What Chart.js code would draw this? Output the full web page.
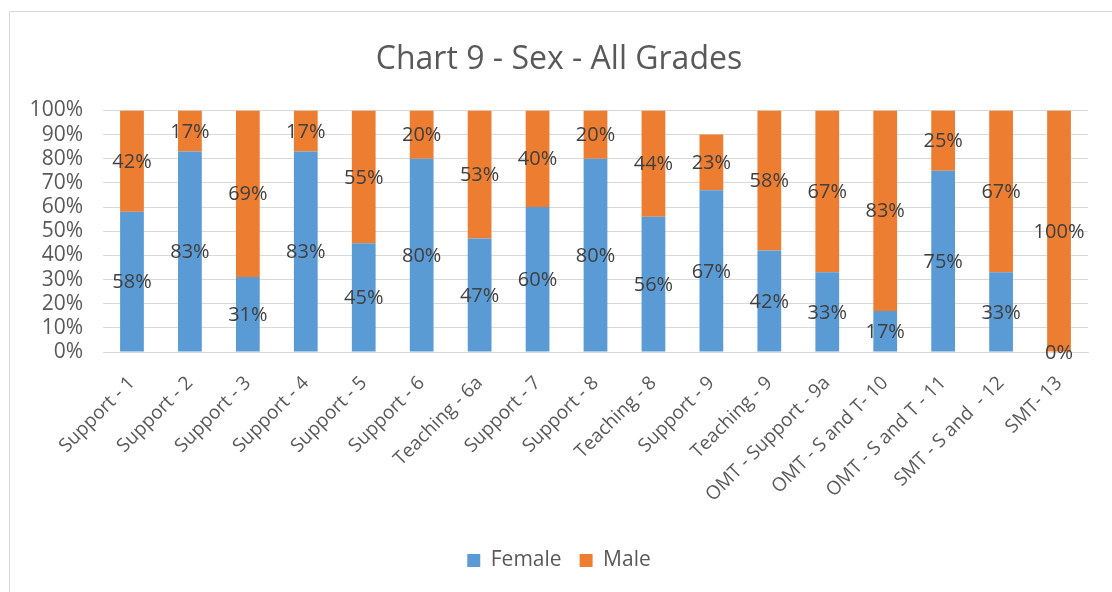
<!DOCTYPE html>
<html>
<head>
<meta charset="utf-8">
<script src="https://cdn.jsdelivr.net/npm/chart.js@4.4.1/dist/chart.umd.min.js"></script>
<style>
  html, body { margin: 0; padding: 0; background: #fff; }
  #wrap { position: relative; width: 1112px; height: 592px; overflow: hidden; }
  #frame { position: absolute; left: 9px; top: 11px; right: -5px; bottom: -5px; border: 1px solid #d9d9d9; }
  canvas { position: absolute; left: 0; top: 0; }
</style>
</head>
<body>
<div id="wrap">
  <div id="frame"></div>
  <canvas id="chart" width="1112" height="592"></canvas>
</div>
<script>
// grades on the x axis
const categories = [
  'Support - 1', 'Support - 2', 'Support - 3', 'Support - 4', 'Support - 5',
  'Support - 6', 'Teaching - 6a', 'Support - 7', 'Support - 8', 'Teaching - 8',
  'Support - 9', 'Teaching - 9', 'OMT - Support - 9a', 'OMT - S and T- 10',
  'OMT - S and T - 11', 'SMT - S and  - 12', 'SMT- 13'
];
// percentages per grade
const female = [58, 83, 31, 83, 45, 80, 47, 60, 80, 56, 67, 42, 33, 17, 75, 33, 0];
const male   = [42, 17, 69, 17, 55, 20, 53, 40, 20, 44, 23, 58, 67, 83, 25, 67, 100];
const yTicks = [0, 10, 20, 30, 40, 50, 60, 70, 80, 90, 100];

const FONT = "'Open Sans', sans-serif";

// draws the value labels in the middle of each segment
const segmentLabels = {
  id: 'segmentLabels',
  afterDatasetsDraw(chart) {
    const ctx = chart.ctx;
    ctx.save();
    ctx.font = '20px ' + FONT;
    ctx.fillStyle = '#404040';
    ctx.textAlign = 'center';
    ctx.textBaseline = 'middle';
    chart.data.datasets.forEach((ds, i) => {
      const meta = chart.getDatasetMeta(i);
      meta.data.forEach((bar, j) => {
        const y = (bar.y + bar.base) / 2;
        ctx.fillText(ds.data[j] + '%', bar.x, y + 1);
      });
    });
    ctx.restore();
  }
};

new Chart(document.getElementById('chart'), {
  type: 'bar',
  data: {
    labels: categories,
    datasets: [
      { label: 'Female', data: female, backgroundColor: '#5b9bd5', categoryPercentage: 1, barPercentage: 0.41 },
      { label: 'Male', data: male, backgroundColor: '#ed7d31', categoryPercentage: 1, barPercentage: 0.41 }
    ]
  },
  options: {
    responsive: false,
    animation: false,
    layout: { padding: { left: 30, right: 24, top: 0, bottom: 11 } },
    plugins: {
      title: {
        display: true,
        text: 'Chart 9 - Sex - All Grades',
        color: '#595959',
        font: { family: FONT, size: 32, weight: 'normal' },
        padding: { top: 41, bottom: 31 }
      },
      legend: {
        position: 'bottom',
        labels: {
          color: '#595959',
          font: { family: FONT, size: 21 },
          boxWidth: 13,
          boxHeight: 13,
          padding: 18
        }
      },
      tooltip: { enabled: false }
    },
    scales: {
      x: {
        stacked: true,
        grid: { display: false },
        border: { color: '#d9d9d9', width: 1 },
        ticks: {
          color: '#595959',
          font: { family: FONT, size: 19 },
          minRotation: 45,
          maxRotation: 45,
          autoSkip: false,
          padding: 12
        },
        afterFit(s) { s.height = 180; }
      },
      y: {
        stacked: true,
        min: 0,
        max: 100,
        afterBuildTicks(s) { s.ticks = yTicks.map(v => ({ value: v })); },
        grid: { color: '#d9d9d9', drawTicks: false },
        border: { display: false },
        ticks: {
          color: '#595959',
          font: { family: FONT, size: 21 },
          autoSkip: false,
          padding: 20,
          callback: v => v + '%'
        },
        afterFit(s) { s.width = 73; }
      }
    }
  },
  plugins: [segmentLabels]
});
</script>
</body>
</html>
